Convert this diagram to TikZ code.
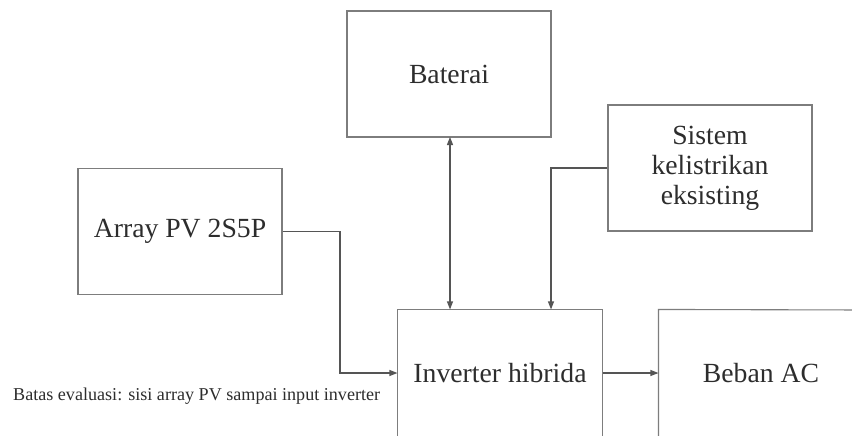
\documentclass[tikz,border=0pt]{standalone}
\usepackage{fontspec}
\setmainfont{Liberation Serif}
\usetikzlibrary{arrows.meta}
\definecolor{boxline}{RGB}{125,125,125}
\definecolor{conline}{RGB}{85,85,85}
\definecolor{txt}{RGB}{45,45,45}
\tikzset{
  blockbox/.style={draw=boxline, line width=1.1pt, minimum width=204pt, minimum height=126pt,
    inner sep=0pt, text=txt, font=\fontsize{27.7}{30}\selectfont, align=center},
  openbox/.style={blockbox, draw=none},
  boxedge/.style={draw=boxline, line width=1.1pt},
  conn/.style={draw=conline, line width=1.1pt, -{Triangle[length=8pt,width=6pt]}},
  bothconn/.style={draw=conline, line width=1.1pt, {Triangle[length=8pt,width=6pt]}-{Triangle[length=8pt,width=6pt]}},
  note/.style={text=txt, font=\fontsize{18.1}{20}\selectfont, inner sep=0pt}
}
\begin{document}
\begin{tikzpicture}[x=1pt,y=-1pt]
\useasboundingbox (0,0) rectangle (852,436);
\fill[white] (0,0) rectangle (852,436);
\node[blockbox] (bat) at (449,74) {Baterai};
\node[blockbox] (sis) at (710,168) {Sistem\\kelistrikan\\eksisting};
\node[blockbox] (arr) at (180,231.5) {Array PV 2S5P};
\node[openbox] (inv) at (500,373) {Inverter hibrida};
\node[openbox] (beb) at (761,373) {Beban AC};
\draw[boxedge] (inv.south west) -- (inv.north west) -- (inv.north east) -- (inv.south east);
\draw[boxedge] (beb.south west) -- (beb.north west) -- (beb.north east |- 0,310) -- (852,310);
\node[note, anchor=base west] (lbl) at (13,400) {Batas evaluasi: sisi array PV sampai input inverter};
\coordinate (k1) at (340,231.5);
\coordinate (k2) at (551,168);
\coordinate (k3) at (450,137);
\draw[conn] (arr.east) -- (k1) |- (inv.west);
\draw[bothconn] (k3) -- (k3 |- inv.north);
\draw[conn] (sis.west) -- (k2) -- (k2 |- inv.north);
\draw[conn] (inv.east) -- (beb.west);
\end{tikzpicture}
\end{document}
